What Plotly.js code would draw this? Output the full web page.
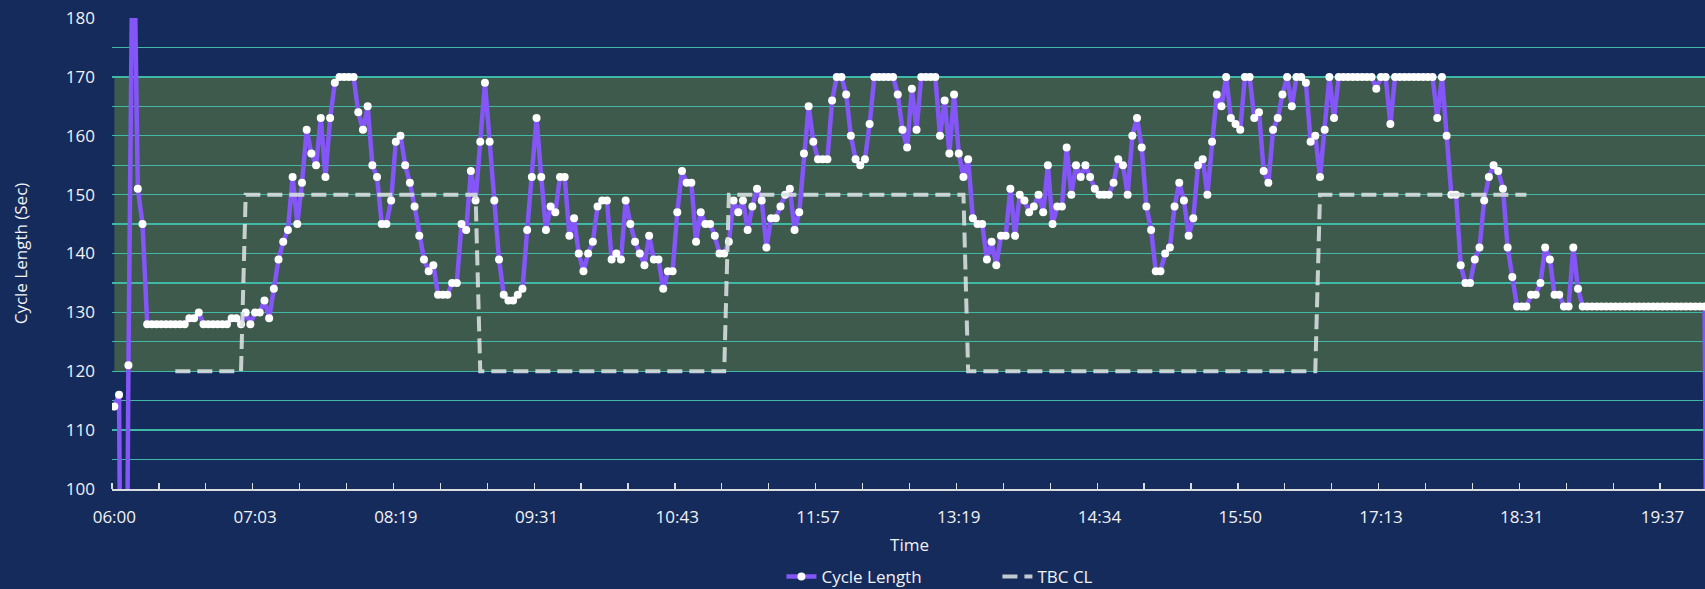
<!DOCTYPE html>
<html><head><meta charset="utf-8">
<script src="https://cdn.plot.ly/plotly-3.0.1.min.js"></script>
<style>
html,body{margin:0;padding:0;background:#152b5c;overflow:hidden;width:1705px;height:589px}
#chart{width:1707px;height:589px}
</style>
</head><body><div id="chart"></div>
<script>
// Category labels shown on the axis (every 30th cycle)
const timeLabels = ["06:00","07:03","08:19","09:31","10:43","11:57","13:19","14:34","15:50","17:13","18:31","19:37"];
const labelEvery = 30;   // cycles between labelled categories
const tickEvery = 10;    // cycles between tick marks

// Cycle length (sec) per cycle
const cycleLength = [
114,116,0,121,205,151,145,128,128,128,
128,128,128,128,128,128,129,129,130,128,
128,128,128,128,128,129,129,128,130,128,
130,130,132,129,134,139,142,144,153,145,
152,161,157,155,163,153,163,169,170,170,
170,170,164,161,165,155,153,145,145,149,
159,160,155,152,148,143,139,137,138,133,
133,133,135,135,145,144,154,149,159,169,
159,149,139,133,132,132,133,134,144,153,
163,153,144,148,147,153,153,143,146,140,
137,140,142,148,149,149,139,140,139,149,
145,142,140,138,143,139,139,134,137,137,
147,154,152,152,142,147,145,145,143,140,
140,142,149,147,149,144,148,151,149,141,
146,146,148,150,151,144,147,157,165,159,
156,156,156,166,170,170,167,160,156,155,
156,162,170,170,170,170,170,167,161,158,
168,161,170,170,170,170,160,166,157,167,
157,153,156,146,145,145,139,142,138,143,
143,151,143,150,149,147,148,150,147,155,
145,148,148,158,150,155,153,155,153,151,
150,150,150,152,156,155,150,160,163,158,
148,144,137,137,140,141,148,152,149,143,
146,155,156,150,159,167,165,170,163,162,
161,170,170,163,164,154,152,161,163,167,
170,165,170,170,169,159,160,153,161,170,
163,170,170,170,170,170,170,170,170,168,
170,170,162,170,170,170,170,170,170,170,
170,170,163,170,160,150,150,138,135,135,
139,141,149,153,155,154,151,141,136,131,
131,131,133,133,135,141,139,133,133,131,
131,141,134,131,131,131,131,131,131,131,
131,131,131,131,131,131,131,131,131,131,
131,131,131,131,131,131,131,131,131,131,
0
];

// TBC cycle length plan per cycle (null = no plan)
const tbcCL = [
null,null,null,null,null,null,null,null,null,null,
null,null,null,120,120,120,120,120,120,120,
120,120,120,120,120,120,120,120,150,150,
150,150,150,150,150,150,150,150,150,150,
150,150,150,150,150,150,150,150,150,150,
150,150,150,150,150,150,150,150,150,150,
150,150,150,150,150,150,150,150,150,150,
150,150,150,150,150,150,150,150,120,120,
120,120,120,120,120,120,120,120,120,120,
120,120,120,120,120,120,120,120,120,120,
120,120,120,120,120,120,120,120,120,120,
120,120,120,120,120,120,120,120,120,120,
120,120,120,120,120,120,120,120,120,120,
120,150,150,150,150,150,150,150,150,150,
150,150,150,150,150,150,150,150,150,150,
150,150,150,150,150,150,150,150,150,150,
150,150,150,150,150,150,150,150,150,150,
150,150,150,150,150,150,150,150,150,150,
150,150,120,120,120,120,120,120,120,120,
120,120,120,120,120,120,120,120,120,120,
120,120,120,120,120,120,120,120,120,120,
120,120,120,120,120,120,120,120,120,120,
120,120,120,120,120,120,120,120,120,120,
120,120,120,120,120,120,120,120,120,120,
120,120,120,120,120,120,120,120,120,120,
120,120,120,120,120,120,120,150,150,150,
150,150,150,150,150,150,150,150,150,150,
150,150,150,150,150,150,150,150,150,150,
150,150,150,150,150,150,150,150,150,150,
150,150,150,150,150,150,150,150,150,150,
150,150,null,null,null,null,null,null,null,null,
null,null,null,null,null,null,null,null,null,null,
null,null,null,null,null,null,null,null,null,null,
null,null,null,null,null,null,null,null,null,null,
null
];

// Acceptable cycle-length band
const bandLimits = [120, 170];

const nCat = cycleLength.length;
const idx = cycleLength.map((_, i) => i);
const lastCat = nCat - 2; // final visible category
const labelPos = timeLabels.map((_, k) => k * labelEvery);
const minorTicks = [];
for (let b = -0.5; b <= lastCat + 0.5; b += tickEvery) minorTicks.push(b);

const txt = '#f2f2f2';
const grid = '#40b8a6';
const font = {family: '"Open Sans", sans-serif', size: 17, color: txt};

const traces = [
  {
    x: idx, y: cycleLength, name: 'Cycle Length', type: 'scatter', mode: 'lines+markers',
    line: {color: '#8556f7', width: 4.5},
    marker: {color: '#ffffff', size: 8},
    cliponaxis: true
  },
  {
    x: idx, y: tbcCL, name: 'TBC CL', type: 'scatter', mode: 'lines',
    line: {color: 'rgba(218,224,224,0.88)', width: 4, dash: '15px,7px'},
    connectgaps: false
  }
];

const layout = {
  width: 1707, height: 589,
  margin: {l: 112, r: 0, t: 18, b: 100, autoexpand: false},
  paper_bgcolor: '#152b5c', plot_bgcolor: '#152b5c',
  font: font,
  showlegend: true,
  legend: {orientation: 'h', x: 0.4197, xanchor: 'left', yref: 'container', y: 0.0204, yanchor: 'middle',
           entrywidth: 171, font: font, bgcolor: 'rgba(0,0,0,0)', tracegroupgap: 0},
  xaxis: {
    range: [-0.5, lastCat + 0.5], showgrid: false, zeroline: false,
    showline: true, linecolor: '#d8dcdc', linewidth: 1.5,
    tickmode: 'array', tickvals: labelPos, ticktext: timeLabels,
    ticks: '', tickfont: font, ticklabelstandoff: 12,
    minor: {tickmode: 'array', tickvals: minorTicks, ticks: 'inside', ticklen: 6,
            tickwidth: 1.3, tickcolor: '#d8dcdc', showgrid: false},
    title: {text: 'Time', font: font, standoff: 12},
    automargin: false, fixedrange: true
  },
  yaxis: {
    range: [100, 180], tick0: 100, dtick: 10, showline: false, zeroline: false,
    gridcolor: grid, gridwidth: 1.3, ticks: '', tickfont: font, ticklabelstandoff: 16,
    minor: {tick0: 100, dtick: 5, showgrid: true, gridcolor: grid, gridwidth: 1.3, ticks: ''},
    title: {text: 'Cycle Length (Sec)', font: font, standoff: 33},
    automargin: false, fixedrange: true
  },
  shapes: [{
    type: 'rect', xref: 'x', yref: 'y', layer: 'below',
    x0: 0, x1: nCat - 1, y0: bandLimits[0], y1: bandLimits[1],
    fillcolor: '#3d5a4d', line: {width: 0}
  }]
};

Plotly.newPlot('chart', traces, layout, {displayModeBar: false, staticPlot: true});
</script>
</body></html>
